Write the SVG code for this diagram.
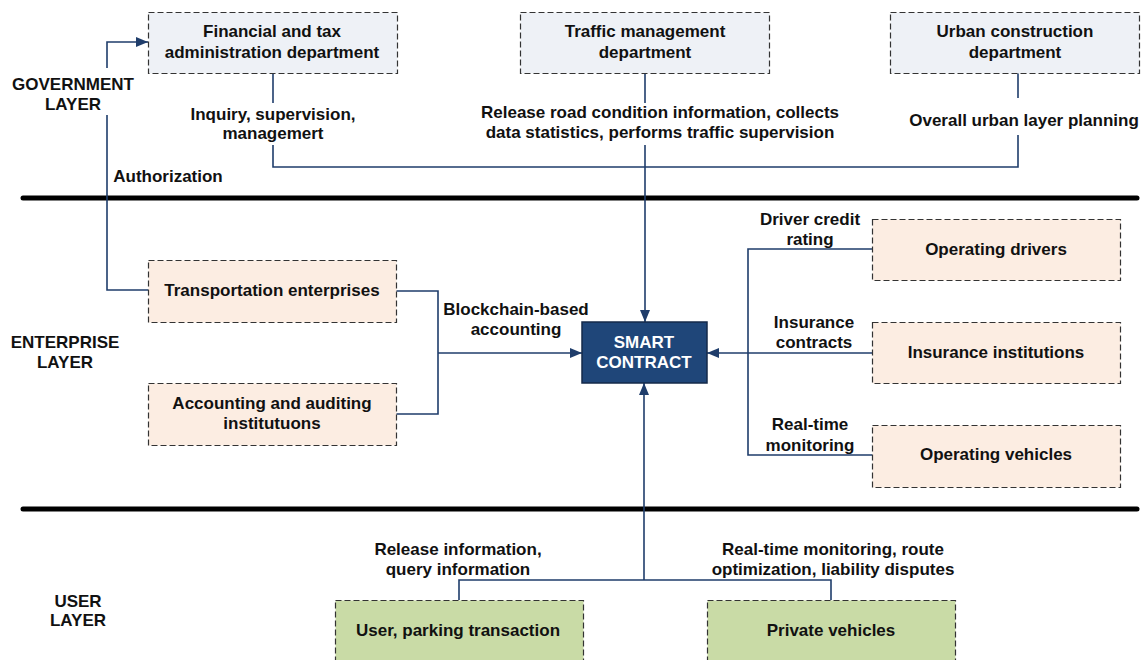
<svg xmlns="http://www.w3.org/2000/svg" width="1145" height="660" viewBox="0 0 1145 660">
<style>
text{font-family:"Liberation Sans",Arial,sans-serif;font-weight:bold;font-size:17px;fill:#111;text-anchor:middle}
.gov{fill:#EEF1F6;stroke:#333;stroke-width:1.2;stroke-dasharray:6 3}
.ent{fill:#FCEDE2;stroke:#333;stroke-width:1.2;stroke-dasharray:6 3}
.usr{fill:#C9DBA6;stroke:#333;stroke-width:1.2;stroke-dasharray:6 3}
.sep{stroke:#000;stroke-width:5;stroke-linecap:round}
.c{fill:none;stroke:#1F3D6B;stroke-width:1.6}
.sc{fill:#1F4679;stroke:#142a4a;stroke-width:1.5}
.wt{fill:#fff}
</style>
<defs>
<marker id="arr" markerUnits="userSpaceOnUse" markerWidth="12" markerHeight="10" refX="12" refY="5" orient="auto">
<path d="M0,0 L12,5 L0,10 z" fill="#1F3D6B"/>
</marker>
</defs>
<g id="separators">
<line class="sep" x1="23" y1="198" x2="1137" y2="198"/>
<line class="sep" x1="23" y1="509" x2="1137" y2="509"/>
</g>
<g id="layer-labels">
<text x="73" y="90">GOVERNMENT</text>
<text x="73" y="110">LAYER</text>
<text x="65" y="348">ENTERPRISE</text>
<text x="65" y="368">LAYER</text>
<text x="78" y="607">USER</text>
<text x="78" y="626">LAYER</text>
</g>
<g id="connectors">
<path class="c" d="M148,290 H107 V115"/>
<path class="c" d="M107,68 V42 H148" marker-end="url(#arr)"/>
<path class="c" d="M273,73 V103"/>
<path class="c" d="M273,145 V167 H1018 V135"/>
<path class="c" d="M1018,98 V73"/>
<path class="c" d="M645,73 V103"/>
<path class="c" d="M645,145 V322" marker-end="url(#arr)"/>
<path class="c" d="M396,291 H438 V414 H396"/>
<path class="c" d="M438,353 H582" marker-end="url(#arr)"/>
<path class="c" d="M872,249 H748 V455 H872"/>
<path class="c" d="M872,353 H707" marker-end="url(#arr)"/>
<path class="c" d="M459,600 V580 H831 V600"/>
<path class="c" d="M644,580 V383" marker-end="url(#arr)"/>
</g>
<g id="connector-labels">
<text x="273" y="120">Inquiry, supervision,</text>
<text x="273" y="139">managemert</text>
<text x="660" y="118">Release road condition information, collects</text>
<text x="660" y="138">data statistics, performs traffic supervision</text>
<text x="1024" y="126">Overall urban layer planning</text>
<text x="168" y="182">Authorization</text>
<text x="516" y="315">Blockchain-based</text>
<text x="516" y="335">accounting</text>
<text x="810" y="225">Driver credit</text>
<text x="810" y="245">rating</text>
<text x="814" y="328">Insurance</text>
<text x="814" y="348">contracts</text>
<text x="810" y="430">Real-time</text>
<text x="810" y="451">monitoring</text>
<text x="458" y="555">Release information,</text>
<text x="458" y="575">query information</text>
<text x="833" y="555">Real-time monitoring, route</text>
<text x="833" y="575">optimization, liability disputes</text>
</g>
<g id="financial">
<rect class="gov" x="148.5" y="12.5" width="249" height="61"/>
<text x="272" y="37">Financial and tax</text>
<text x="272" y="58">administration department</text>
</g>
<g id="traffic">
<rect class="gov" x="520.5" y="12.5" width="249" height="61"/>
<text x="645" y="37">Traffic management</text>
<text x="645" y="58">department</text>
</g>
<g id="urban">
<rect class="gov" x="890.5" y="12.5" width="249" height="61"/>
<text x="1015" y="37">Urban construction</text>
<text x="1015" y="58">department</text>
</g>
<g id="transportation">
<rect class="ent" x="148.5" y="260.5" width="248" height="62"/>
<text x="272" y="296">Transportation enterprises</text>
</g>
<g id="accounting">
<rect class="ent" x="148.5" y="383.5" width="248" height="62"/>
<text x="272" y="409">Accounting and auditing</text>
<text x="272" y="429">institutuons</text>
</g>
<g id="smart-contract">
<rect class="sc" x="582" y="322" width="125" height="61"/>
<text class="wt" x="644" y="348">SMART</text>
<text class="wt" x="644" y="368">CONTRACT</text>
</g>
<g id="drivers">
<rect class="ent" x="872.5" y="219.5" width="248" height="61"/>
<text x="996" y="255">Operating drivers</text>
</g>
<g id="insurance">
<rect class="ent" x="872.5" y="322.5" width="248" height="61"/>
<text x="996" y="358">Insurance institutions</text>
</g>
<g id="vehicles">
<rect class="ent" x="872.5" y="425.5" width="248" height="62"/>
<text x="996" y="460">Operating vehicles</text>
</g>
<g id="user">
<rect class="usr" x="335.5" y="600.5" width="248" height="62"/>
<text x="458" y="636">User, parking transaction</text>
</g>
<g id="private">
<rect class="usr" x="707.5" y="600.5" width="248" height="62"/>
<text x="831" y="636">Private vehicles</text>
</g>
</svg>
